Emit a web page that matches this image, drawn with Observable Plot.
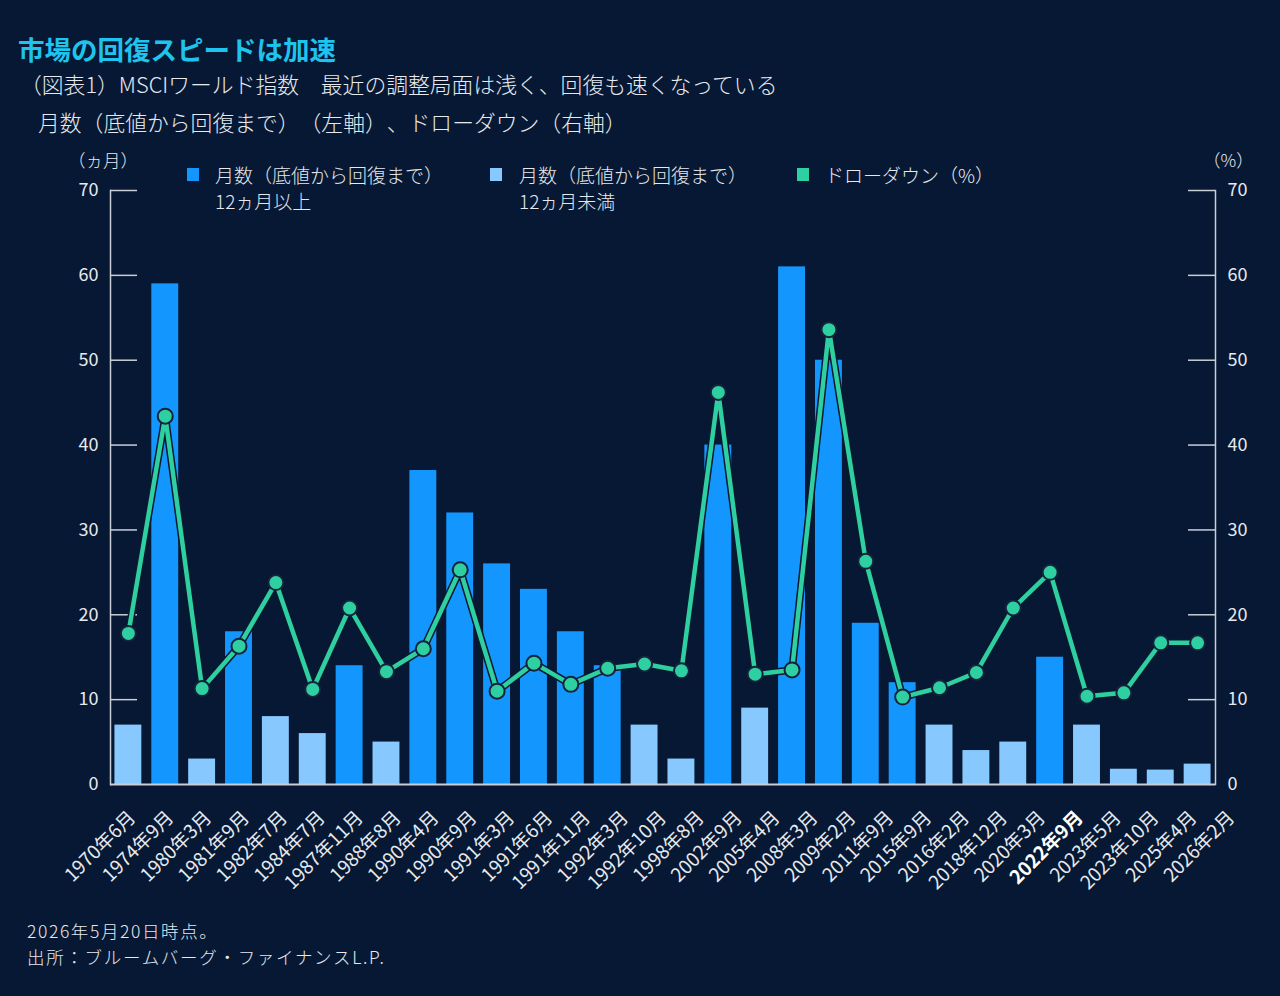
<!DOCTYPE html>
<html>
<head>
<meta charset="utf-8">
<script src="https://cdn.jsdelivr.net/npm/d3@7"></script>
<script src="https://cdn.jsdelivr.net/npm/@observablehq/plot@0.6"></script>
<style>
  html, body { margin: 0; padding: 0; background: #061833; }
  body { width: 1280px; height: 996px; position: relative; overflow: hidden;
         font-family: "Noto Sans CJK JP", "Noto Sans", sans-serif; color: #e6e9ee;
         text-spacing-trim: space-all; }
  .abs { position: absolute; white-space: nowrap; line-height: 1; text-spacing-trim: space-all; }
  .layer { position: absolute; left: 0; top: 0; }
  .layer svg text { text-spacing-trim: space-all; }
  .sq { position: absolute; width: 12px; height: 13px; }
</style>
</head>
<body>
<div class="abs" style="left:18px; top:36px; font-size:26.5px; font-weight:bold; color:#1ec4ee;">市場の回復スピードは加速</div>
<div class="abs" style="left:20px; top:73px; font-size:21.8px; font-weight:300;">（図表1）MSCIワールド指数　最近の調整局面は浅く、回復も速くなっている</div>
<div class="abs" style="left:38px; top:111px; font-size:21.8px; font-weight:300;">月数（底値から回復まで）（左軸）、ドローダウン（右軸）</div>
<div class="abs" style="left:68px; top:151px; font-size:17.5px; font-weight:300;">（ヵ月）</div>
<div class="abs" style="left:1203px; top:151px; font-size:17.5px; font-weight:300;">（%）</div>

<div class="sq" style="left:187px; top:168px; background:#1496ff;"></div>
<div class="abs" style="left:215px; top:165px; font-size:19px; font-weight:300;">月数（底値から回復まで）</div>
<div class="abs" style="left:215px; top:191px; font-size:19px; font-weight:300;">12ヵ月以上</div>
<div class="sq" style="left:490px; top:168px; background:#87c8ff;"></div>
<div class="abs" style="left:519px; top:165px; font-size:19px; font-weight:300;">月数（底値から回復まで）</div>
<div class="abs" style="left:519px; top:191px; font-size:19px; font-weight:300;">12ヵ月未満</div>
<div class="sq" style="left:797px; top:168px; background:#2ecfa0;"></div>
<div class="abs" style="left:825px; top:165px; font-size:19px; font-weight:300;">ドローダウン（%）</div>

<div id="chart" class="layer"></div>
<div id="labels" class="layer"></div>

<div class="abs" style="left:27px; top:922px; font-size:17.5px; letter-spacing:1.6px; font-weight:300;">2026年5月20日時点。</div>
<div class="abs" style="left:27px; top:948px; font-size:17.5px; letter-spacing:1.7px; font-weight:300;">出所：ブルームバーグ・ファイナンスL.P.</div>

<script>
const dates = ["1970年6月","1974年9月","1980年3月","1981年9月","1982年7月","1984年7月","1987年11月","1988年8月","1990年4月","1990年9月","1991年3月","1991年6月","1991年11月","1992年3月","1992年10月","1998年8月","2002年9月","2005年4月","2008年3月","2009年2月","2011年9月","2015年9月","2016年2月","2018年12月","2020年3月","2022年9月","2023年5月","2023年10月","2025年4月","2026年2月"];
const months = [7,59,3,18,8,6,14,5,37,32,26,23,18,14,7,3,40,9,61,50,19,12,7,4,5,15,7,1.8,1.7,2.4];
const drawdown = [17.8,43.4,11.3,16.3,23.8,11.2,20.8,13.3,16.0,25.3,11.0,14.3,11.8,13.7,14.2,13.4,46.2,13.0,13.5,53.6,26.3,10.3,11.4,13.2,20.8,25.0,10.4,10.8,16.7,16.7];
const yTicks = [0,10,20,30,40,50,60,70];
const boldLabel = "2022年9月";

const data = dates.map((d, i) => ({date: d, months: months[i], dd: drawdown[i]}));

const axisColor = "#c9ced6";
const textColor = "#e6e9ee";
const plotW = 1280 - 110 - 65;
const font = "'Noto Sans CJK JP', 'Noto Sans', sans-serif";

const chart = Plot.plot({
  width: 1280,
  height: 996,
  marginLeft: 110,
  marginRight: 65,
  marginTop: 190,
  marginBottom: 212,
  style: {background: "transparent", color: textColor, fontFamily: font, fontSize: "17px"},
  x: {domain: dates, paddingInner: 0.27, paddingOuter: 0.12, round: false, label: null, axis: null},
  y: {domain: [0, 70], label: null},
  marks: [
    Plot.barY(data.filter(d => d.months >= 12), {x: "date", y: "months", fill: "#1496ff"}),
    Plot.barY(data.filter(d => d.months < 12), {x: "date", y: "months", fill: "#87c8ff"}),
    Plot.ruleY(yTicks.filter(t => t > 0), {stroke: axisColor, strokeWidth: 1.5, insetRight: plotW - 27}),
    Plot.ruleY(yTicks.filter(t => t > 0), {stroke: axisColor, strokeWidth: 1.5, insetLeft: plotW - 27}),
    Plot.frame({anchor: "left", stroke: axisColor, strokeWidth: 1.5}),
    Plot.frame({anchor: "right", stroke: axisColor, strokeWidth: 1.5}),
    Plot.ruleY([0], {stroke: axisColor, strokeWidth: 2}),
    Plot.axisY(yTicks, {anchor: "left", tickSize: 0, tickPadding: 12, fontSize: 18, fill: textColor, label: null}),
    Plot.axisY(yTicks, {anchor: "right", tickSize: 0, tickPadding: 12, fontSize: 18, fill: textColor, label: null}),
    Plot.line(data, {x: "date", y: "dd", stroke: "#0b1a30", strokeWidth: 7.5, strokeLinejoin: "round"}),
    Plot.line(data, {x: "date", y: "dd", stroke: "#2ecfa0", strokeWidth: 4.5, strokeLinejoin: "round"}),
    Plot.dot(data, {x: "date", y: "dd", r: 7.5, fill: "#2ecfa0", stroke: "#16233a", strokeWidth: 2})
  ]
});
document.getElementById("chart").appendChild(chart);

// Category labels are spaced slightly wider than the bars in the original
const labels = Plot.plot({
  width: 1280,
  height: 996,
  marginLeft: 110,
  marginRight: 65,
  marginTop: 190,
  marginBottom: 212,
  style: {background: "transparent", color: textColor, fontFamily: font},
  x: {type: "point", domain: dates, range: [130, 1229], padding: 0, round: false, label: null},
  y: {domain: [0, 70], axis: null},
  marks: [
    Plot.axisX(dates.filter(d => d !== boldLabel), {tickSize: 0, tickPadding: 30, dx: 2, tickRotate: -45, fontSize: 19, fill: textColor, label: null}),
    Plot.axisX([boldLabel], {tickSize: 0, tickPadding: 30, dx: 2, tickRotate: -45, fontSize: 19, fontWeight: "bold", fill: "#ffffff", label: null})
  ]
});
document.getElementById("labels").appendChild(labels);
</script>
</body>
</html>
